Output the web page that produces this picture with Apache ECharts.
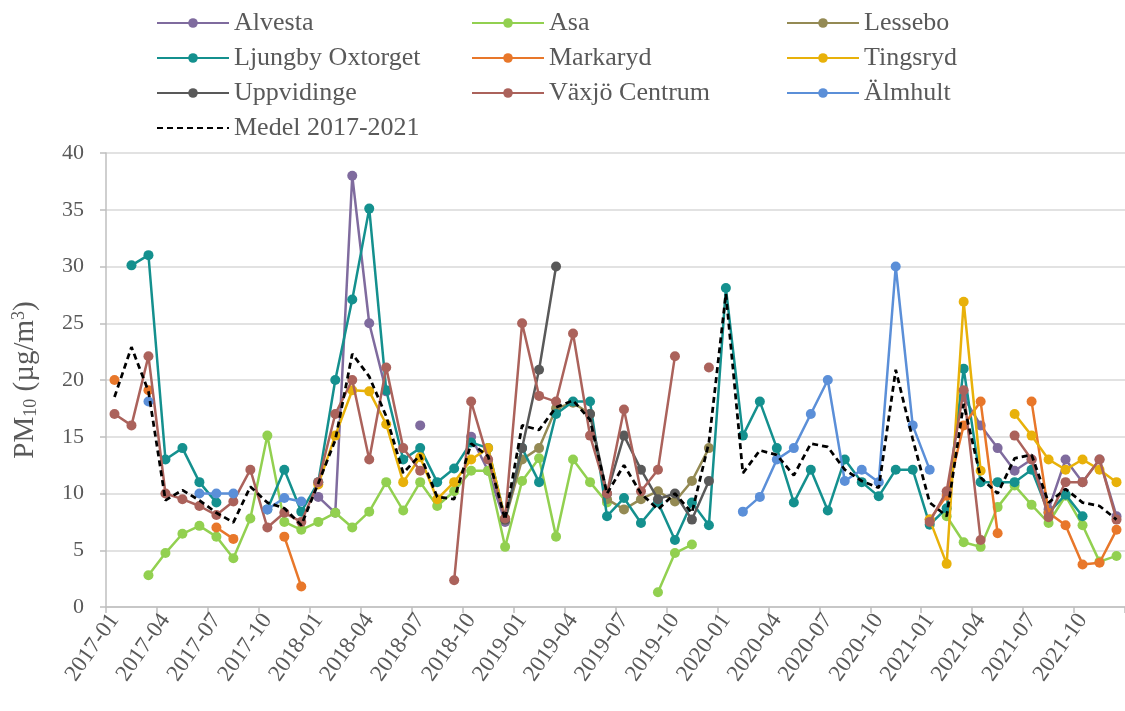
<!DOCTYPE html>
<html>
<head>
<meta charset="utf-8">
<script src="https://cdn.jsdelivr.net/npm/echarts@6/dist/echarts.min.js"></script>
<style>
html,body{margin:0;padding:0;background:#fff;}
#chart{width:1125px;height:711px;}
</style>
</head>
<body>
<div id="chart"></div>
<script>
const categories = [
'2017-01','2017-02','2017-03','2017-04','2017-05','2017-06','2017-07','2017-08','2017-09','2017-10','2017-11','2017-12',
'2018-01','2018-02','2018-03','2018-04','2018-05','2018-06','2018-07','2018-08','2018-09','2018-10','2018-11','2018-12',
'2019-01','2019-02','2019-03','2019-04','2019-05','2019-06','2019-07','2019-08','2019-09','2019-10','2019-11','2019-12',
'2020-01','2020-02','2020-03','2020-04','2020-05','2020-06','2020-07','2020-08','2020-09','2020-10','2020-11','2020-12',
'2021-01','2021-02','2021-03','2021-04','2021-05','2021-06','2021-07','2021-08','2021-09','2021-10','2021-11','2021-12'
];
const yTicks = [0, 5, 10, 15, 20, 25, 30, 35, 40];
const N = null;
const alvesta = [
N,N,N,N,N,N,N,N,N,N,N,N,
9.7,8.3,38,25,19,N,16,N,N,15,12,7.5,
N,N,N,N,N,N,N,N,N,N,N,N,
N,N,N,N,N,N,N,N,N,N,N,N,
N,N,18.5,16,14,12,13,8.6,13,11,13,8];
const asa = [
N,N,2.8,4.75,6.45,7.15,6.2,4.3,7.8,15.1,7.5,6.8,
7.5,8.3,7.0,8.4,11.0,8.5,11.0,8.9,10.2,12.0,12.0,5.3,
11.1,13.1,6.2,13.0,11.0,9.2,N,N,1.3,4.75,5.5,N,
N,N,N,N,N,N,N,N,N,N,N,N,
N,8.0,5.7,5.3,8.8,10.7,9.0,7.4,9.8,7.2,4.0,4.5];
const lessebo = [
N,N,N,N,N,N,N,N,N,N,N,N,
N,N,N,N,N,N,N,N,N,N,N,7.7,
13,14,17.5,18,17,9.5,8.6,9.5,10.2,9.3,11.1,14.0,
N,N,N,N,N,N,N,N,N,N,N,N,
N,N,N,N,N,N,N,N,N,N,N,N];
const ljungby = [
N,30.1,31.0,13.0,14.0,11.0,9.2,N,N,8.6,12.1,8.4,
11.0,20.0,27.1,35.1,19.1,13.0,14.0,11.0,12.2,14.5,14.0,7.8,
14.0,11.0,17.0,18.1,18.1,8.0,9.6,7.4,9.2,5.9,9.2,7.2,
28.1,15.1,18.1,14.0,9.2,12.1,8.5,13.0,11.0,9.75,12.1,12.1,
7.25,8.7,21.0,11.0,11.0,11.0,12.1,8.3,9.9,8.0,N,N];
const markaryd = [
20,N,19.1,N,N,N,7.0,6.0,N,N,6.2,1.8,
N,N,N,N,N,N,N,N,N,N,N,N,
N,N,N,N,N,N,N,N,N,N,N,N,
N,N,N,N,N,N,N,N,N,N,N,N,
7.7,9.8,16.0,18.1,6.5,N,18.1,8.3,7.2,3.75,3.9,6.8];
const tingsryd = [
N,N,N,N,N,N,N,N,N,N,N,N,
10.8,15.1,19.1,19.0,16.1,11.0,13.2,9.5,11.0,13.0,14.0,7.8,
N,N,N,N,N,N,N,N,N,N,N,N,
N,N,N,N,N,N,N,N,N,N,N,N,
7.7,3.8,26.9,12.0,N,17.0,15.1,13.0,12.1,13.0,12.1,11.0];
const uppvidinge = [
N,N,N,N,N,N,N,N,N,N,N,N,
N,N,N,N,N,N,N,N,N,N,N,7.7,
14.0,20.9,30.0,N,17.0,10.0,15.1,12.1,9.5,10.0,7.7,11.1,
N,N,N,N,N,N,N,N,N,N,N,N,
N,N,N,N,N,N,N,N,N,N,N,N];
const vaxjo = [
17.0,16.0,22.1,10.0,9.5,8.9,8.1,9.3,12.1,7.0,8.3,7.5,
11.0,17.0,20.0,13.0,21.1,14.0,12.0,N,2.35,18.1,13,7.8,
25.0,18.6,18.1,24.1,15.1,10.0,17.4,10.2,12.1,22.1,N,21.1,
N,N,N,N,N,N,N,N,N,N,N,N,
7.5,10.2,19.1,5.9,N,15.1,13.0,7.9,11.0,11.0,13.0,7.7];
const almhult = [
N,N,18.1,N,N,10,10,10,N,8.6,9.6,9.3,
N,N,N,N,N,N,N,N,N,N,N,N,
N,N,N,N,N,N,N,N,N,N,N,N,
N,8.4,9.7,13.0,14.0,17.0,20.0,11.1,12.1,11.0,30.0,16.0,
12.1,N,N,N,N,N,N,N,N,N,N,N];
const medel = [
18.5,22.9,19,9.4,10.3,9.4,8.3,7.45,10.6,9.2,8.7,7.2,
10.9,14.7,22.3,20.3,16.8,11.8,13.4,9.7,9.5,14.4,13.3,7.7,
16.0,15.6,17.6,18.2,16.5,10.0,12.5,10.0,8.6,10.0,8.3,14.5,
27.6,11.8,13.8,13.4,11.6,14.4,14.1,12.1,11.1,10.5,20.9,14.8,
9.2,8.0,17.9,11.4,10.0,13.1,13.4,9.2,10.4,9.2,8.9,7.7];

const seriesNames = ['Alvesta','Asa','Lessebo','Ljungby Oxtorget','Markaryd','Tingsryd','Uppvidinge','Växjö Centrum','Älmhult'];
const seriesData = [alvesta, asa, lessebo, ljungby, markaryd, tingsryd, uppvidinge, vaxjo, almhult];
const seriesColors = ['#7f6b9e','#92d050','#948a54','#14908e','#e8772a','#e8b10a','#595959','#ab625b','#5b8fd8'];
const FONT = 'Liberation Serif';
const TXT = '#595959';

const series = seriesNames.map((name, k) => ({
  name: name,
  type: 'line',
  data: seriesData[k],
  connectNulls: false,
  showAllSymbol: true,
  symbol: 'circle',
  symbolSize: 10,
  lineStyle: { width: 2.5, color: seriesColors[k] },
  itemStyle: { color: seriesColors[k] },
  emphasis: { disabled: true },
  z: 2 + k
}));
series.push({
  name: 'Medel 2017-2021',
  type: 'line',
  data: medel,
  symbol: 'none',
  lineStyle: { width: 2.75, color: '#000', type: [6, 4] },
  itemStyle: { color: '#000' },
  emphasis: { disabled: true },
  z: 20
});

const legendBase = {
  orient: 'vertical',
  top: 4,
  itemGap: 7,
  itemWidth: 72,
  itemHeight: 12,
  textStyle: { fontSize: 26, fontFamily: FONT, color: TXT, lineHeight: 28 }
};

const chart = echarts.init(document.getElementById('chart'));
chart.setOption({
  animation: false,
  backgroundColor: '#fff',
  grid: { left: 106, right: -6, top: 153, bottom: 104, containLabel: false },
  legend: [
    Object.assign({}, legendBase, { left: 151, data: ['Alvesta','Ljungby Oxtorget','Uppvidinge',
      { name: 'Medel 2017-2021', itemStyle: { opacity: 0 } }] }),
    Object.assign({}, legendBase, { left: 466, data: ['Asa','Markaryd','Växjö Centrum'] }),
    Object.assign({}, legendBase, { left: 781, data: ['Lessebo','Tingsryd','Älmhult'] })
  ],
  xAxis: {
    type: 'category',
    data: categories,
    boundaryGap: true,
    axisLine: { show: true, lineStyle: { color: '#bfbfbf', width: 1.5 } },
    axisTick: { show: true, length: 6, lineStyle: { color: '#bfbfbf', width: 1.5 } },
    axisLabel: { interval: 2, rotate: 55, fontSize: 23, fontFamily: FONT, color: TXT, margin: 9 },
    splitLine: { show: false }
  },
  yAxis: {
    type: 'value',
    min: yTicks[0],
    max: yTicks[yTicks.length - 1],
    interval: 5,
    name: '{a|PM}{b|10}{a| (µg/m}{c|3}{a|)}',
    nameLocation: 'middle',
    nameRotate: 90,
    nameGap: 64,
    nameTextStyle: {
      rich: {
        a: { fontSize: 29, fontFamily: FONT, color: TXT, lineHeight: 34 },
        b: { fontSize: 18, fontFamily: FONT, color: TXT, lineHeight: 34, verticalAlign: 'bottom', padding: [0, 0, 2, 0] },
        c: { fontSize: 18, fontFamily: FONT, color: TXT, lineHeight: 34, verticalAlign: 'top', padding: [2, 0, 0, 0] }
      }
    },
    axisLine: { show: true, lineStyle: { color: '#bfbfbf', width: 1.5 } },
    axisTick: { show: true, length: 6, lineStyle: { color: '#bfbfbf', width: 1.5 } },
    axisLabel: { fontSize: 22, fontFamily: FONT, color: TXT, margin: 22 },
    splitLine: { show: true, lineStyle: { color: '#d9d9d9', width: 1.5 } }
  },
  series: series
});
</script>
</body>
</html>
